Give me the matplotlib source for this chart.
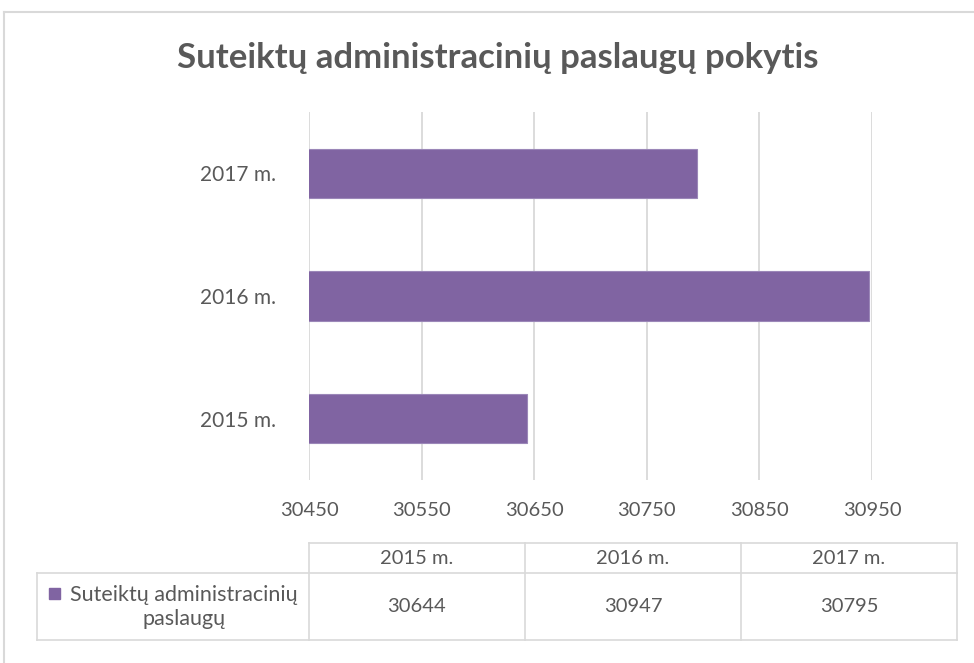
import matplotlib.pyplot as plt
from matplotlib.lines import Line2D
from matplotlib.patches import Rectangle

# data
years = ["2015 m.", "2016 m.", "2017 m."]
values = [30644, 30947, 30795]
series_name = "Suteiktų administracinių\npaslaugų"
title = "Suteiktų administracinių paslaugų pokytis"
xticks = [30450, 30550, 30650, 30750, 30850, 30950]

W, H = 974, 663
purple = "#8064A2"
txt = "#595959"
grid = "#D9D9D9"

plt.rcParams["font.family"] = ["Lato", "DejaVu Sans"]

fig = plt.figure(figsize=(W / 100, H / 100), dpi=100)


def fx(px):
    return px / W


def fy(py):
    return 1 - py / H


# chart border (top and left visible)
fig.add_artist(Line2D([fx(4), fx(4)], [fy(12), 0], color=grid, lw=1.5))
fig.add_artist(Line2D([fx(4), 1], [fy(12), fy(12)], color=grid, lw=1.5))

fig.text(fx(498), fy(58), title, ha="center", va="center",
         fontsize=25, fontweight="bold", color=txt)

# bar chart
ax = fig.add_axes([fx(309), fy(480), fx(872) - fx(309), fy(112) - fy(480)])
ypos = range(len(years))
ax.barh(ypos, values, height=0.4, color=purple, edgecolor="#9B87B8", linewidth=0.8, zorder=3)
ax.set_xlim(xticks[0], xticks[-1])
ax.set_ylim(-0.5, len(years) - 0.5)
ax.set_xticks(xticks)
ax.set_xticklabels([str(t) for t in xticks])
ax.set_yticks(list(ypos))
ax.set_yticklabels(years)
ax.tick_params(length=0, labelsize=15, colors=txt)
ax.tick_params(axis="x", labelsize=14.5, pad=16)
ax.tick_params(axis="y", pad=24)
ax.grid(axis="x", color=grid, lw=1.3, zorder=0)
for s in ax.spines.values():
    s.set_visible(False)

# data table
col_edges = [309, 525, 741, 957]
row_top, row_mid, row_bot = 543, 573, 640
left = 37
lc = grid
lw = 1.2
fig.add_artist(Line2D([fx(col_edges[0]), fx(col_edges[-1])], [fy(row_top)] * 2, color=lc, lw=lw))
fig.add_artist(Line2D([fx(left), fx(col_edges[-1])], [fy(row_mid)] * 2, color=lc, lw=lw))
fig.add_artist(Line2D([fx(left), fx(col_edges[-1])], [fy(row_bot)] * 2, color=lc, lw=lw))
fig.add_artist(Line2D([fx(left)] * 2, [fy(row_mid), fy(row_bot)], color=lc, lw=lw))
for i, xe in enumerate(col_edges):
    fig.add_artist(Line2D([fx(xe)] * 2, [fy(row_top), fy(row_bot)], color=lc, lw=lw))

for i, (yr, v) in enumerate(zip(years, values)):
    cx = (col_edges[i] + col_edges[i + 1]) / 2
    fig.text(fx(cx), fy((row_top + row_mid) / 2), yr, ha="center", va="center",
             fontsize=14.5, color=txt)
    fig.text(fx(cx), fy((row_mid + row_bot) / 2), str(v), ha="center", va="center",
             fontsize=14.5, color=txt)

fig.add_artist(Rectangle((fx(49), fy(599)), fx(11), 11 / H, color=purple))
fig.text(fx(184), fy(607), series_name, ha="center", va="center",
         fontsize=15.5, color=txt, linespacing=1.3)

fig.savefig("out.png", dpi=100)
